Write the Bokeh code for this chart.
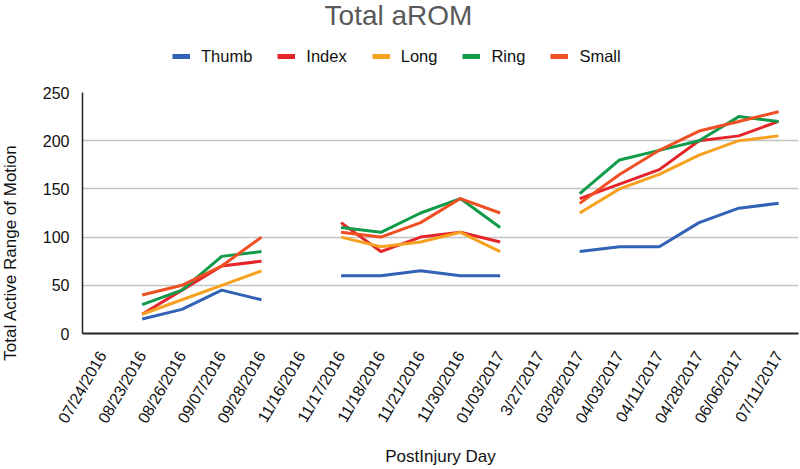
import math
from bokeh.plotting import figure
from bokeh.layouts import column, row
from bokeh.models import (FactorRange, Range1d, FixedTicker, Legend, LegendItem, Label)
from bokeh.embed import file_html
from bokeh.resources import INLINE

nan = float("nan")

dates = ["07/24/2016", "08/23/2016", "08/26/2016", "09/07/2016", "09/28/2016",
         "11/16/2016", "11/17/2016", "11/18/2016", "11/21/2016", "11/30/2016",
         "01/03/2017", "3/27/2017", "03/28/2017", "04/03/2017", "04/11/2017",
         "04/28/2017", "06/06/2017", "07/11/2017"]

thumb = [nan, 15, 25, 45, 35, nan, 60, 60, 65, 60, 60, nan, 85, 90, 90, 115, 130, 135]
index = [nan, 20, 45, 70, 75, nan, 115, 85, 100, 105, 95, nan, 140, 155, 170, 200, 205, 220]
long_ = [nan, 20, 35, 50, 65, nan, 100, 90, 95, 105, 85, nan, 125, 150, 165, 185, 200, 205]
ring = [nan, 30, 45, 80, 85, nan, 110, 105, 125, 140, 110, nan, 145, 180, 190, 200, 225, 220]
small = [nan, 40, 50, 70, 100, nan, 105, 100, 115, 140, 125, nan, 135, 165, 190, 210, 220, 230]

series_names = ["Thumb", "Index", "Long", "Ring", "Small"]
series_values = [thumb, index, long_, ring, small]
colors = ["#3162b5", "#e4262b", "#f6a11f", "#119a4a", "#f04e23"]

y_ticks = [0, 50, 100, 150, 200, 250]

TOTAL_W, TOTAL_H = 800, 469
STRIP_W = 22
W = TOTAL_W - STRIP_W
HEAD_H = 84
MAIN_H = TOTAL_H - HEAD_H
FRAME_LEFT = 82
ML, MR = FRAME_LEFT - STRIP_W, 2
font = "Liberation Sans"

# ---------- left strip: y axis title ----------
strip = figure(width=STRIP_W, height=TOTAL_H, x_range=Range1d(0, STRIP_W), y_range=Range1d(0, TOTAL_H),
               x_axis_type=None, y_axis_type=None, output_backend="svg", toolbar_location=None,
               min_border=0)
strip.outline_line_color = None
strip.xgrid.grid_line_color = None
strip.ygrid.grid_line_color = None
strip.add_layout(Label(x=10, y=TOTAL_H - 252, text="Total Active Range of Motion", angle=math.pi / 2,
                       text_font=font, text_font_size="17px", text_color="#111111",
                       text_align="center", text_baseline="middle"))

# ---------- header: title + legend ----------
head = figure(width=W, height=HEAD_H, x_range=Range1d(FRAME_LEFT, TOTAL_W - MR), y_range=Range1d(0, HEAD_H),
              x_axis_type=None, y_axis_type=None, output_backend="svg", toolbar_location=None,
              min_border=0)
head.outline_line_color = None
head.xgrid.grid_line_color = None
head.ygrid.grid_line_color = None
head.add_layout(Label(x=398, y=HEAD_H - 15, text="Total aROM", text_font=font,
                      text_font_size="28px", text_color="#595959",
                      text_align="center", text_baseline="alphabetic"))

proxies = [head.line(x=[0], y=[-50], line_color=c, line_width=5) for c in colors]

legend = Legend(items=[LegendItem(label=n, renderers=[pr]) for n, pr in zip(series_names, proxies)],
                orientation="horizontal", location=(90, 18),
                glyph_width=18, glyph_height=16, label_standoff=11, spacing=25,
                padding=0, margin=0, label_text_font=font, label_text_font_size="16.5px",
                label_text_color="#111111", border_line_alpha=0, background_fill_alpha=0,
                label_height=20)
head.add_layout(legend, "center")

# ---------- main chart ----------
p = figure(width=W, height=MAIN_H, x_range=FactorRange(factors=dates, range_padding=0),
           y_range=Range1d(0, 250), output_backend="svg", toolbar_location=None,
           min_border_left=ML, min_border_top=8, min_border_bottom=136, min_border_right=MR)
p.outline_line_color = None

p.yaxis.ticker = FixedTicker(ticks=y_ticks)
p.yaxis.major_tick_line_color = None
p.yaxis.minor_tick_line_color = None
p.yaxis.axis_line_color = "#222222"
p.yaxis.axis_line_width = 1.5
p.yaxis.major_label_text_font = font
p.yaxis.major_label_text_font_size = "16px"
p.yaxis.major_label_text_color = "#111111"
p.yaxis.major_label_standoff = 7

p.xaxis.major_tick_line_color = None
p.xaxis.minor_tick_line_color = None
p.xaxis.axis_line_color = "#222222"
p.xaxis.axis_line_width = 2
p.xaxis.major_label_orientation = math.radians(60)
p.xaxis.major_label_text_font = font
p.xaxis.major_label_text_font_size = "16px"
p.xaxis.major_label_text_color = "#111111"
p.xaxis.major_label_standoff = 13
p.xaxis.axis_label = "PostInjury Day"
p.xaxis.axis_label_text_font = font
p.xaxis.axis_label_text_font_size = "17px"
p.xaxis.axis_label_text_font_style = "normal"
p.xaxis.axis_label_text_color = "#111111"
p.xaxis.axis_label_standoff = 14

p.xgrid.grid_line_color = None
p.ygrid.grid_line_color = "#c4c4c4"
p.ygrid.grid_line_width = 1.5

for name, vals, c in zip(series_names, series_values, colors):
    p.line(x=dates, y=vals, line_color=c, line_width=3)

layout = row(strip, column(head, p, spacing=0), spacing=0)
open("out.html", "w").write(file_html(layout, INLINE))
